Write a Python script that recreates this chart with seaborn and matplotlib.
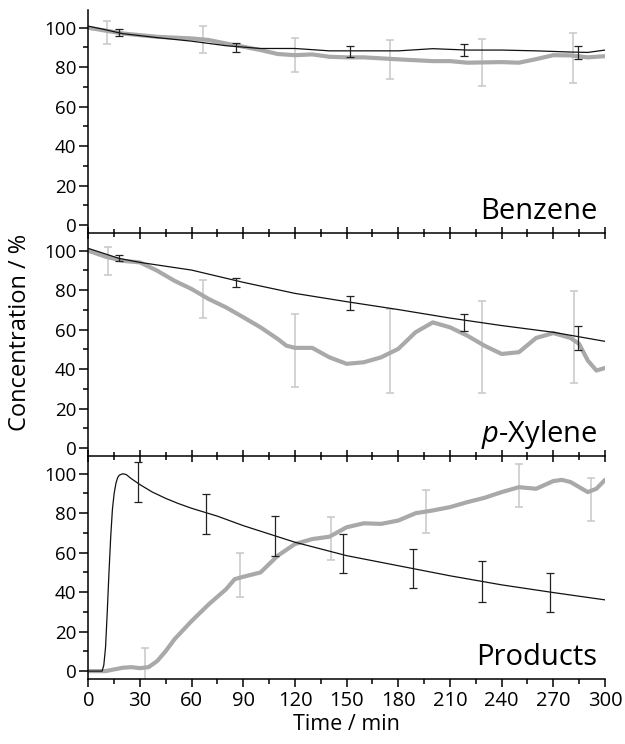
import numpy as np
import pandas as pd
import matplotlib
matplotlib.use("Agg")
import matplotlib.pyplot as plt
from matplotlib.ticker import MultipleLocator
import seaborn as sns

# ---------------- data ----------------
# Benzene
benz_model_t = [0, 10, 20, 30, 40, 60, 80, 100, 120, 140, 160, 180, 200, 220, 240, 260, 280, 290, 300]
benz_model_y = [100.8, 99, 97, 96, 95, 93.2, 90.9, 89.5, 89.5, 88.3, 88.3, 88.3, 89.4, 88.7, 88.7, 88.3, 87.7, 87.5, 88.7]
benz_exp_t = [0, 20, 40, 60, 70, 80, 90, 100, 110, 120, 130, 140, 150, 160, 180, 200, 210, 220, 240, 250, 260, 270, 280, 290, 300]
benz_exp_y = [100, 97.1, 95.4, 94.6, 93.8, 92, 90.4, 88.7, 86.7, 86.1, 86.5, 85.3, 85, 85, 84, 83.1, 83.1, 82.3, 82.6, 82.3, 84.1, 86.1, 86, 85, 85.6]
benz_model_err_t = [18, 86, 152, 218, 284.5]
benz_model_err_y = [97.5, 89.8, 87.8, 88.7, 87.5]
benz_model_err_e = [1.7, 2.3, 2.8, 3.0, 3.5]
benz_exp_err_t = [11, 66.5, 120, 175, 228.5, 281.5]
benz_exp_err_y = [97.7, 93.9, 86.0, 84.0, 82.3, 84.8]
benz_exp_err_e = [5.7, 6.9, 8.6, 10.0, 11.8, 12.7]

# p-Xylene
xyl_model_t = [0, 18, 30, 60, 90, 120, 150, 180, 210, 240, 270, 300]
xyl_model_y = [101.2, 96.1, 94.1, 90.2, 84, 78.4, 74.2, 70.2, 65.9, 62.1, 58.7, 54.1]
xyl_exp_t = [0, 10, 20, 30, 40, 50, 60, 70, 80, 90, 100, 110, 115, 120, 130, 140, 150, 160, 170, 180, 190, 200, 210, 220, 230, 240, 250, 260, 270, 280, 285, 290, 295, 300]
xyl_exp_y = [100, 97, 94.9, 94.1, 89.9, 84.8, 80.6, 75.5, 71.3, 66.3, 61.2, 55.3, 51.9, 50.8, 50.8, 46, 42.7, 43.5, 46, 50.3, 58.7, 63.7, 61.2, 57, 51.9, 47.7, 48.6, 55.8, 58.3, 55.8, 52.8, 44.4, 39.3, 40.6]
xyl_model_err_t = [18, 86, 152, 218, 284.5]
xyl_model_err_y = [96.3, 83.7, 73.6, 63.7, 55.9]
xyl_model_err_e = [1.7, 2.3, 3.5, 4.3, 6.0]
xyl_exp_err_t = [11.5, 66.5, 120, 175, 228.5, 282]
xyl_exp_err_y = [94.8, 75.5, 49.7, 49.2, 51.1, 56.2]
xyl_exp_err_e = [6.9, 9.6, 18.5, 21.3, 23.3, 23.3]

# Products
prod_model_t = [0, 8, 9, 10, 11, 12, 13, 14, 15, 16, 17, 18, 20, 22, 25, 30, 37, 45, 52, 60, 75, 90, 105, 120, 135, 150, 180, 210, 240, 270, 300]
prod_model_y = [0, 0, 3, 12, 30, 50, 68, 82, 90, 95, 98, 99.3, 100, 99.6, 97.5, 94.5, 90.8, 87.5, 85, 82.5, 78.5, 73.7, 69.5, 65.3, 61.9, 58.5, 53.4, 48.3, 43.7, 39.8, 36.1]
prod_exp_t = [0, 10, 20, 25, 30, 35, 40, 45, 50, 60, 70, 80, 85, 90, 100, 110, 120, 130, 140, 150, 160, 170, 180, 190, 200, 210, 220, 230, 240, 250, 260, 270, 275, 280, 290, 295, 300]
prod_exp_y = [0, 0, 1.7, 2, 1.5, 2, 5.1, 10.2, 16.1, 25.4, 33.9, 41.5, 46.6, 47.8, 50, 58.5, 64.4, 66.9, 68.1, 72.9, 74.9, 74.6, 76.3, 80, 81.4, 83.1, 85.6, 87.8, 90.7, 93.2, 92.4, 96.3, 96.9, 95.8, 90.7, 92.4, 96.9]
prod_model_err_t = [29, 68.5, 108.5, 148, 188.5, 228.5, 268]
prod_model_err_y = [95.9, 79.7, 68.3, 59.7, 52.0, 45.4, 39.9]
prod_model_err_e = [10, 10.2, 10.2, 10, 9.9, 10.2, 10]
prod_exp_err_t = [33, 88, 141, 196, 250, 292]
prod_exp_err_y = [2, 48.6, 67.1, 81, 94.2, 87.1]
prod_exp_err_e = [9.5, 11, 10.8, 11, 10.8, 10.8]

panel_names = ["Benzene", "$\\it{p}$-Xylene", "Products"]
x_ticks = [0, 30, 60, 90, 120, 150, 180, 210, 240, 270, 300]
y_ticks = [0, 20, 40, 60, 80, 100]

panels = [
    (benz_model_t, benz_model_y, benz_exp_t, benz_exp_y,
     benz_model_err_t, benz_model_err_y, benz_model_err_e,
     benz_exp_err_t, benz_exp_err_y, benz_exp_err_e),
    (xyl_model_t, xyl_model_y, xyl_exp_t, xyl_exp_y,
     xyl_model_err_t, xyl_model_err_y, xyl_model_err_e,
     xyl_exp_err_t, xyl_exp_err_y, xyl_exp_err_e),
    (prod_model_t, prod_model_y, prod_exp_t, prod_exp_y,
     prod_model_err_t, prod_model_err_y, prod_model_err_e,
     prod_exp_err_t, prod_exp_err_y, prod_exp_err_e),
]

# ---------------- style ----------------
sns.set_style("ticks")
plt.rcParams['font.family'] = ['Open Sans', 'DejaVu Sans']
plt.rcParams['mathtext.fontset'] = 'custom'
plt.rcParams['mathtext.it'] = 'Open Sans:italic'
plt.rcParams['mathtext.rm'] = 'Open Sans'
for k in ['text.color', 'axes.labelcolor', 'xtick.color', 'ytick.color', 'axes.edgecolor']:
    plt.rcParams[k] = 'black'

GRAY = "#a9a9a9"
GRAY_ERR = "#c8c8c8"
DARK = "#111111"

fig = plt.figure(figsize=(6.25, 7.44), dpi=100)
gs = fig.add_gridspec(3, 1, left=0.1413, right=0.968, bottom=1 - 679 / 744, top=1 - 10 / 744, hspace=0)
axes = [fig.add_subplot(gs[i]) for i in range(3)]

for i, (ax, p) in enumerate(zip(axes, panels)):
    mt, my, et, ey, met, mey, mee, eet, eey, eee = p
    ax.set_facecolor('none')
    ax.set_zorder(3 - i)
    df_exp = pd.DataFrame({"t": et, "c": ey})
    df_mod = pd.DataFrame({"t": mt, "c": my})
    ax.errorbar(eet, eey, yerr=eee, fmt='none', ecolor=GRAY_ERR, elinewidth=1.1,
                capsize=3.2, capthick=1.1, zorder=1)
    sns.lineplot(data=df_exp, x="t", y="c", ax=ax, color=GRAY, lw=3.0, zorder=2)
    sns.lineplot(data=df_mod, x="t", y="c", ax=ax, color=DARK, lw=0.9, zorder=3)
    ax.errorbar(met, mey, yerr=mee, fmt='none', ecolor="#222222", elinewidth=0.9,
                capsize=2.6, capthick=0.9, zorder=4)

    ax.set_xlim(0, 300)
    ax.set_ylim(-4, 109)
    ax.set_yticks(y_ticks)
    ax.yaxis.set_minor_locator(MultipleLocator(10))
    ax.set_xticks(x_ticks)
    ax.xaxis.set_minor_locator(MultipleLocator(15))
    ax.set_xlabel("")
    ax.set_ylabel("")
    for s in ["top", "right"]:
        ax.spines[s].set_visible(False)
    for s in ["left", "bottom"]:
        ax.spines[s].set_linewidth(1.1)
        ax.spines[s].set_color("black")
    ax.tick_params(axis='y', which='major', direction='out', length=6.5, width=1.1,
                   labelsize=13.5, pad=2, colors='black')
    ax.tick_params(axis='y', which='minor', direction='out', length=3.8, width=1.1)
    if i < 2:
        ax.tick_params(axis='x', which='major', direction='inout', length=9, width=1.1,
                       labelbottom=False)
        ax.tick_params(axis='x', which='minor', direction='inout', length=6, width=1.1)
    else:
        ax.tick_params(axis='x', which='major', direction='out', length=6, width=1.1,
                       labelsize=14.5, pad=3)
        ax.tick_params(axis='x', which='minor', direction='out', length=3.5, width=1.1)
    ax.text(0.985, 0.063, panel_names[i], transform=ax.transAxes, ha='right',
            va='baseline', fontsize=21)

axes[2].set_xlabel("Time / min", fontsize=15.5, labelpad=2)
fig.text(0.032, 0.553, "Concentration / %", rotation=90, ha='center', va='center', fontsize=17)

fig.savefig("out.png", dpi=100)
